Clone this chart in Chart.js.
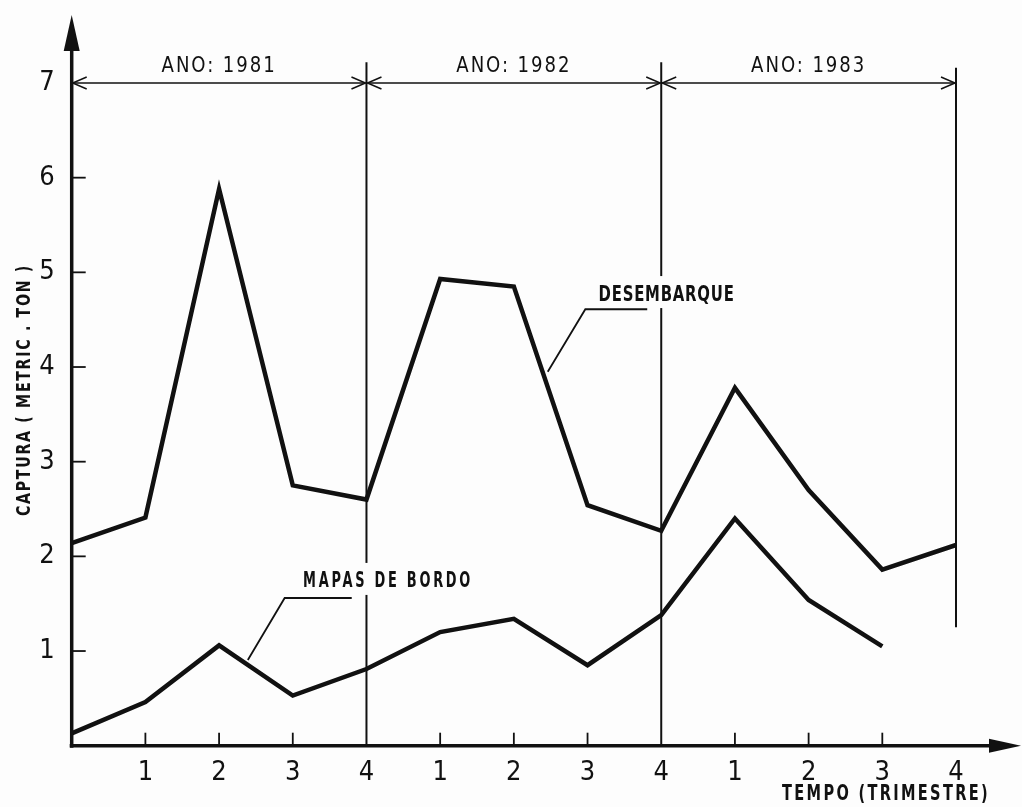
<!DOCTYPE html>
<html>
<head>
<meta charset="utf-8">
<script src="https://cdn.jsdelivr.net/npm/chart.js@4/dist/chart.umd.min.js"></script>
<style>
  body { margin: 0; background: #fdfdfd; }
  #wrap { width: 1022px; height: 807px; }
</style>
</head>
<body>
<div id="wrap"><canvas id="chart" width="1022" height="807"></canvas></div>
<script>
// trimestres (eixo x): posição 0 = origem, depois 1..4 de cada ano
const quarterLabels = ["", "1", "2", "3", "4", "1", "2", "3", "4", "1", "2", "3", "4"];
const desembarque = [2.14, 2.41, 5.88, 2.75, 2.60, 4.93, 4.85, 2.54, 2.27, 3.78, 2.70, 1.86, 2.12];
const mapasDeBordo = [0.13, 0.46, 1.06, 0.53, 0.81, 1.20, 1.34, 0.85, 1.38, 2.40, 1.54, 1.05];
const yTickValues = [1, 2, 3, 4, 5, 6, 7];
const anos = ["1981", "1982", "1983"];
const limitesAno = [0, 4, 8, 12];

const ink = "#111";
const paper = "#fdfdfd";
const numFont = "'Liberation Sans Narrow', 'DejaVu Sans Condensed', 'Roboto Condensed', sans-serif";

// squeeze lettering horizontally to the width it takes on the original drawing
function fitText(ctx, text, x, y, width, align, clear) {
  const w = ctx.measureText(text).width;
  const sx = Math.min(1, width / w);
  ctx.save();
  ctx.textAlign = "left";
  const left = align === "right" ? x - w * sx : align === "center" ? x - (w * sx) / 2 : x;
  if (clear) {
    // the separator lines stop where the lettering crosses them
    ctx.fillStyle = paper;
    ctx.fillRect(left - 3, y - 19, w * sx + 6, 32);
    ctx.fillStyle = ink;
  }
  ctx.translate(left, y);
  ctx.scale(sx, 1);
  ctx.fillText(text, 0, 0);
  ctx.restore();
}

// axes with arrows, inner ticks, year brackets and the hand-lettered notes
const drawingPlugin = {
  id: "drawing",
  afterDraw(chart) {
    const { ctx, scales: { x, y } } = chart;
    const px = v => x.getPixelForValue(v);
    const py = v => y.getPixelForValue(v);
    const x0 = px(0), yb = py(0);
    ctx.save();
    ctx.strokeStyle = ink;
    ctx.fillStyle = ink;
    ctx.lineCap = "butt";

    // y axis + arrow
    ctx.lineWidth = 3.5;
    ctx.beginPath(); ctx.moveTo(x0, yb + 2); ctx.lineTo(x0, 45); ctx.stroke();
    ctx.beginPath(); ctx.moveTo(x0, 15); ctx.lineTo(x0 - 8, 51); ctx.lineTo(x0 + 8, 51); ctx.closePath(); ctx.fill();

    // x axis + arrow
    ctx.beginPath(); ctx.moveTo(x0 - 2, yb); ctx.lineTo(chart.width - 30, yb); ctx.stroke();
    ctx.beginPath(); ctx.moveTo(chart.width - 1, yb); ctx.lineTo(chart.width - 33, yb - 7); ctx.lineTo(chart.width - 33, yb + 7); ctx.closePath(); ctx.fill();

    // y ticks (inside)
    ctx.lineWidth = 1.8;
    yTickValues.filter(v => v < 7).forEach(v => {
      ctx.beginPath(); ctx.moveTo(x0, py(v)); ctx.lineTo(x0 + 14, py(v)); ctx.stroke();
    });
    // x ticks (inside), skipping year boundaries
    quarterLabels.forEach((q, i) => {
      if (i === 0 || limitesAno.includes(i)) return;
      ctx.beginPath(); ctx.moveTo(px(i), yb); ctx.lineTo(px(i), yb - 13); ctx.stroke();
    });

    // year separators
    ctx.lineWidth = 2;
    [4, 8].forEach(i => {
      ctx.beginPath(); ctx.moveTo(px(i), py(7.22)); ctx.lineTo(px(i), yb); ctx.stroke();
    });
    ctx.beginPath(); ctx.moveTo(px(12), py(7.16)); ctx.lineTo(px(12), py(1.25)); ctx.stroke();

    // year brackets
    const ya = py(7);
    ctx.lineWidth = 1.5;
    ctx.font = "21px " + numFont;
    ctx.letterSpacing = "2px";
    ctx.textBaseline = "middle";
    anos.forEach((ano, k) => {
      const a = px(limitesAno[k]) + 1, b = px(limitesAno[k + 1]) - 1;
      ctx.beginPath(); ctx.moveTo(a, ya); ctx.lineTo(b, ya); ctx.stroke();
      ctx.beginPath();
      ctx.moveTo(a + 14, ya - 6); ctx.lineTo(a, ya); ctx.lineTo(a + 14, ya + 6);
      ctx.moveTo(b - 14, ya - 6); ctx.lineTo(b, ya); ctx.lineTo(b - 14, ya + 6);
      ctx.stroke();
      fitText(ctx, "ANO: " + ano, (a + b) / 2, ya - 16, 115, "center");
    });

    // series notes with leader lines
    ctx.lineWidth = 1.8;
    ctx.font = "bold 21px " + numFont;
    ctx.letterSpacing = "1px";
    fitText(ctx, "DESEMBARQUE", px(7.15), py(4.76), 136, "left", true);
    ctx.beginPath();
    ctx.moveTo(px(7.81), py(4.61)); ctx.lineTo(px(6.97), py(4.61)); ctx.lineTo(px(6.46), py(3.95));
    ctx.stroke();
    ctx.letterSpacing = "4px";
    fitText(ctx, "MAPAS DE BORDO", px(3.14), py(1.73), 170, "left", true);
    ctx.beginPath();
    ctx.moveTo(px(3.80), py(1.56)); ctx.lineTo(px(2.89), py(1.56)); ctx.lineTo(px(2.39), py(0.905));
    ctx.stroke();

    // axis titles
    ctx.letterSpacing = "3px";
    fitText(ctx, "TEMPO (TRIMESTRE)", 990, 795, 208, "right");
    ctx.translate(25, 390);
    ctx.rotate(-Math.PI / 2);
    ctx.font = "bold 19px " + numFont;
    ctx.letterSpacing = "2px";
    fitText(ctx, "CAPTURA ( METRIC . TON )", 0, 0, 252, "center");
    ctx.restore();
  }
};

new Chart(document.getElementById("chart"), {
  type: "line",
  data: {
    labels: quarterLabels,
    datasets: [
      {
        label: "DESEMBARQUE",
        data: desembarque,
        borderColor: ink,
        borderWidth: 4.5,
        pointRadius: 0,
        tension: 0,
        borderJoinStyle: "miter",
      },
      {
        label: "MAPAS DE BORDO",
        data: mapasDeBordo,
        borderColor: ink,
        borderWidth: 4.5,
        pointRadius: 0,
        tension: 0,
        borderJoinStyle: "miter",
      },
    ],
  },
  options: {
    responsive: false,
    animation: false,
    layout: { padding: { top: 83, right: 66, left: 0, bottom: 0 } },
    plugins: { legend: { display: false }, tooltip: { enabled: false } },
    scales: {
      x: {
        offset: false,
        grid: { display: false },
        border: { display: false },
        ticks: {
          autoSkip: false,
          maxRotation: 0,
          padding: 3,
          color: ink,
          font: { family: numFont, size: 27 },
        },
        afterFit: s => { s.height = 61.3; },
      },
      y: {
        min: 0,
        max: 7,
        grid: { display: false },
        border: { display: false },
        ticks: {
          stepSize: 1,
          padding: 9,
          color: ink,
          font: { family: numFont, size: 27 },
          callback: v => (yTickValues.includes(v) ? String(v) : ""),
        },
        afterFit: s => { s.width = 71.7; },
      },
    },
  },
  plugins: [drawingPlugin],
});
</script>
</body>
</html>
